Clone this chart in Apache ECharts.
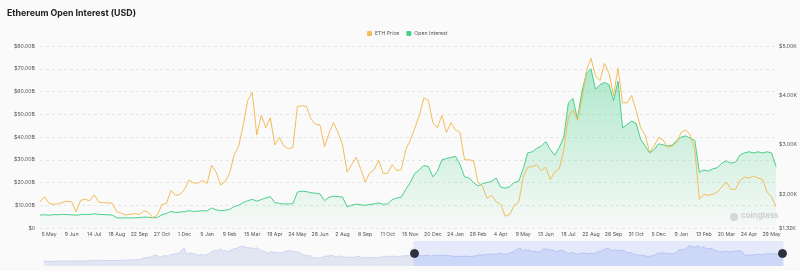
<!DOCTYPE html>
<html><head><meta charset="utf-8">
<script src="https://cdn.jsdelivr.net/npm/echarts@6/dist/echarts.min.js"></script>
<style>html,body{margin:0;padding:0;background:#fafafa}#c{width:800px;height:271px}</style>
</head><body><div id="c"></div>
<script>
// Weekly samples; full history starts 6 Mar 2020, visible window starts 21 Apr 2023
const START_DATE = Date.UTC(2020, 2, 6);
const STEP_DAYS = 7;
const MONTHS = ['Jan','Feb','Mar','Apr','May','Jun','Jul','Aug','Sep','Oct','Nov','Dec'];

// ETH price (USD) before the visible window (seen only in the slider shadow)
const priceHistory = [
  245,130,135,135, 140,160,172,185, 215,212,195,200,220, 240,235,230,230,
  225,240,232,280,345, 380,430,405,395, 385,370,385,350, 345,365,365,410,385,
  450,475,510,520, 595,545,655,625,
  730,1230,1170,1230,1380, 1720,1840,1960,1420, 1530,1760,1810,1700,
  2140,2080,2430,2360,2770, 3480,4070,2300,2400, 2630,2330,2230,1830,
  2150,2150,1880,2120,2460, 2900,3300,3280,3270, 3940,3210,3400,2930,
  3310,3560,3860,3970,4290, 4480,4660,4320,4040, 4220,3900,3920,4110,3680,
  3200,3310,2560,2600, 2990,2930,2620,2770, 2620,2580,2950,3110,
  3450,3200,3040,2960,2820, 2740,2050,2020,1790, 1800,1660,1090,1220,
  1060,1210,1350,1570,1730, 1740,1980,1620,1490, 1580,1720,1430,1330,1330,
  1350,1300,1300,1620, 1640,1280,1210,1200, 1280,1260,1170,1220,1200,
  1270,1450,1660,1600, 1660,1510,1690,1610, 1570,1430,1800,1750,1820, 1860,2100
];

// ETH price (USD), visible window
const ethPrice = [
  1845,1950,1820,1800,1810,1840,1860,1850,1650,1880,
  1900,1870,1990,1850,1830,1830,1820,1650,1620,1580,
  1600,1610,1590,1670,1640,1530,1580,1790,1820,2080,
  1980,2000,2100,2290,2230,2230,2280,2220,2590,2450,
  2190,2260,2430,2800,2980,3400,3900,4060,3200,3600,
  3350,3550,3000,3150,2980,2920,2950,3780,3790,3780,
  3520,3420,3400,2960,3240,3450,3250,3000,2450,2600,
  2750,2520,2250,2430,2500,2690,2420,2430,2600,2480,
  2500,2900,3100,3340,3600,3950,3900,3450,3350,3600,
  3250,3450,3300,3250,2700,2700,2680,2240,2160,1920,
  1980,1850,1800,1560,1590,1780,1840,2350,2550,2560,
  2600,2480,2550,2300,2450,2520,2900,3550,3700,3500,
  3900,4500,4750,4400,4300,4650,4450,4000,4550,3850,
  3850,4000,3700,3350,3200,2850,2980,3150,3100,2950,
  2980,3050,3260,3300,3200,2900,1900,2000,1980,2000,
  2050,2150,2250,2100,2100,2280,2350,2330,2370,2330,
  2300,2050,1950,1745
];

// Open interest (USD billions), visible window
const openInterest = [
  5.7,5.8,5.6,5.9,5.8,6.0,5.9,5.8,5.6,5.9,
  6.0,5.9,6.3,6.0,5.9,5.8,5.7,4.5,4.4,4.5,
  4.4,4.5,4.6,4.8,4.7,4.5,4.6,5.8,6.4,7.3,
  6.8,7.0,7.2,7.6,7.3,7.4,7.6,7.5,8.8,8.0,
  7.6,7.8,8.2,9.4,10.0,11.2,12.0,12.6,11.8,12.5,
  13.2,13.8,11.2,10.8,10.5,10.6,10.7,15.8,16.2,16.0,
  15.5,15.3,15.0,12.0,13.5,14.0,13.8,13.6,9.3,10.0,
  10.5,10.2,10.0,10.3,10.6,11.0,10.4,10.6,12.5,13.2,
  13.5,17.0,20.0,24.0,25.5,27.5,27.0,22.5,25.0,30.0,
  30.5,31.0,31.5,28.0,22.5,22.0,20.0,18.5,19.5,20.0,
  20.5,22.0,18.0,17.5,18.2,20.0,20.5,26.0,33.0,33.5,
  35.0,36.0,38.0,34.5,32.0,35.5,40.0,55.0,57.0,48.0,
  60.0,68.0,70.0,61.0,63.0,64.0,63.0,56.0,64.5,44.0,
  45.5,47.0,46.0,39.0,36.0,33.0,34.5,37.0,36.5,36.0,
  36.5,38.5,40.0,40.5,39.5,38.5,24.5,25.5,25.0,26.0,
  26.5,28.5,29.5,28.5,29.0,32.0,33.0,33.5,33.0,33.5,
  33.0,33.5,33.0,27.0
];

const leftTicks = {min: 0, max: 80, interval: 10};
const rightTicks = {min: 1320, max: 5000};

const hiddenCount = priceHistory.length;
const total = hiddenCount + ethPrice.length;
const categories = [];
for (let i = 0; i < total; i++) {
  const d = new Date(START_DATE + i * STEP_DAYS * 86400000);
  categories.push(d.getUTCDate() + ' ' + MONTHS[d.getUTCMonth()]);
}
const priceAll = priceHistory.concat(ethPrice);
const oiAll = new Array(hiddenCount).fill(null).concat(openInterest);

const FONT = 'Inter, "Noto Sans", sans-serif';
const FS = 5.2;
const chart = echarts.init(document.getElementById('c'));
chart.setOption({
  animation: false,
  backgroundColor: '#fafafa',
  textStyle: {fontFamily: FONT},
  title: {
    text: 'Ethereum Open Interest (USD)', left: 2, top: 4,
    textStyle: {fontSize: 8.8, fontWeight: 'bold', color: '#222', fontFamily: FONT}
  },
  legend: {
    top: 26, left: 362, itemWidth: 5, itemHeight: 5, itemGap: 7, icon: 'roundRect',
    textStyle: {fontSize: FS, color: '#555', padding: [0, 0, 0, -2]},
    data: ['ETH Price', 'Open Interest']
  },
  grid: {left: 40, right: 20, top: 46, bottom: 43},
  xAxis: {
    type: 'category', boundaryGap: false, data: categories,
    axisLine: {show: false}, axisTick: {show: false},
    axisLabel: {fontSize: FS, color: '#555', margin: 4, interval: (idx) => idx % 5 === 0}
  },
  yAxis: [
    {
      type: 'value', position: 'left', min: leftTicks.min, max: leftTicks.max, interval: leftTicks.interval,
      axisLine: {show: false}, axisTick: {show: false},
      axisLabel: {fontSize: FS, color: '#555', margin: 5,
        formatter: v => v === 0 ? '$0' : '$' + v.toFixed(2) + 'B'},
      splitLine: {lineStyle: {type: [3, 3], color: '#e6e6e6'}}
    },
    {
      type: 'value', position: 'right', min: rightTicks.min, max: rightTicks.max, splitNumber: 5,
      axisLine: {show: false}, axisTick: {show: false}, splitLine: {show: false},
      axisLabel: {fontSize: FS, color: '#555', margin: 3,
        formatter: v => '$' + (v / 1000).toFixed(2) + 'K'}
    }
  ],
  series: [
    {
      name: 'ETH Price', type: 'line', yAxisIndex: 1, data: priceAll,
      showSymbol: false, z: 3,
      lineStyle: {width: 1, color: '#f3bd5a'}, itemStyle: {color: '#f3bd5a'}
    },
    {
      name: 'Open Interest', type: 'line', yAxisIndex: 0, data: oiAll,
      showSymbol: false, z: 2,
      lineStyle: {width: 1, color: '#49d08a'}, itemStyle: {color: '#49d08a'},
      areaStyle: {color: new echarts.graphic.LinearGradient(0, 0, 0, 1, [
        {offset: 0, color: 'rgba(73,208,138,0.6)'},
        {offset: 1, color: 'rgba(73,208,138,0.03)'}
      ])}
    }
  ],
  dataZoom: [{
    type: 'slider', xAxisIndex: 0, startValue: hiddenCount, endValue: total - 1,
    left: 41, right: 19, top: 241, height: 25,
    showDetail: false, brushSelect: false, moveHandleSize: 0,
    borderColor: 'transparent', backgroundColor: 'rgba(0,0,0,0)',
    fillerColor: 'rgba(135,160,250,0.18)',
    handleIcon: 'circle', handleSize: 8,
    handleStyle: {color: '#2f3040', borderColor: '#2f3040'},
    dataBackground: {lineStyle: {color: '#b8c6ec', width: 0.6}, areaStyle: {color: '#e2e6f3', opacity: 1}},
    selectedDataBackground: {lineStyle: {color: '#a9b9f0', width: 0.6}, areaStyle: {color: '#c9d3f7', opacity: 0.6}}
  }],
  graphic: [
    {type: 'circle', shape: {cx: 734, cy: 217, r: 4}, style: {fill: '#d6d6d6'}, z: 10},
    {type: 'text', left: 741, top: 212, style: {text: 'coinglass', fontSize: 8, fontWeight: 'bold', fill: '#cfcfcf', fontFamily: FONT}, z: 10}
  ]
});
</script></body></html>
